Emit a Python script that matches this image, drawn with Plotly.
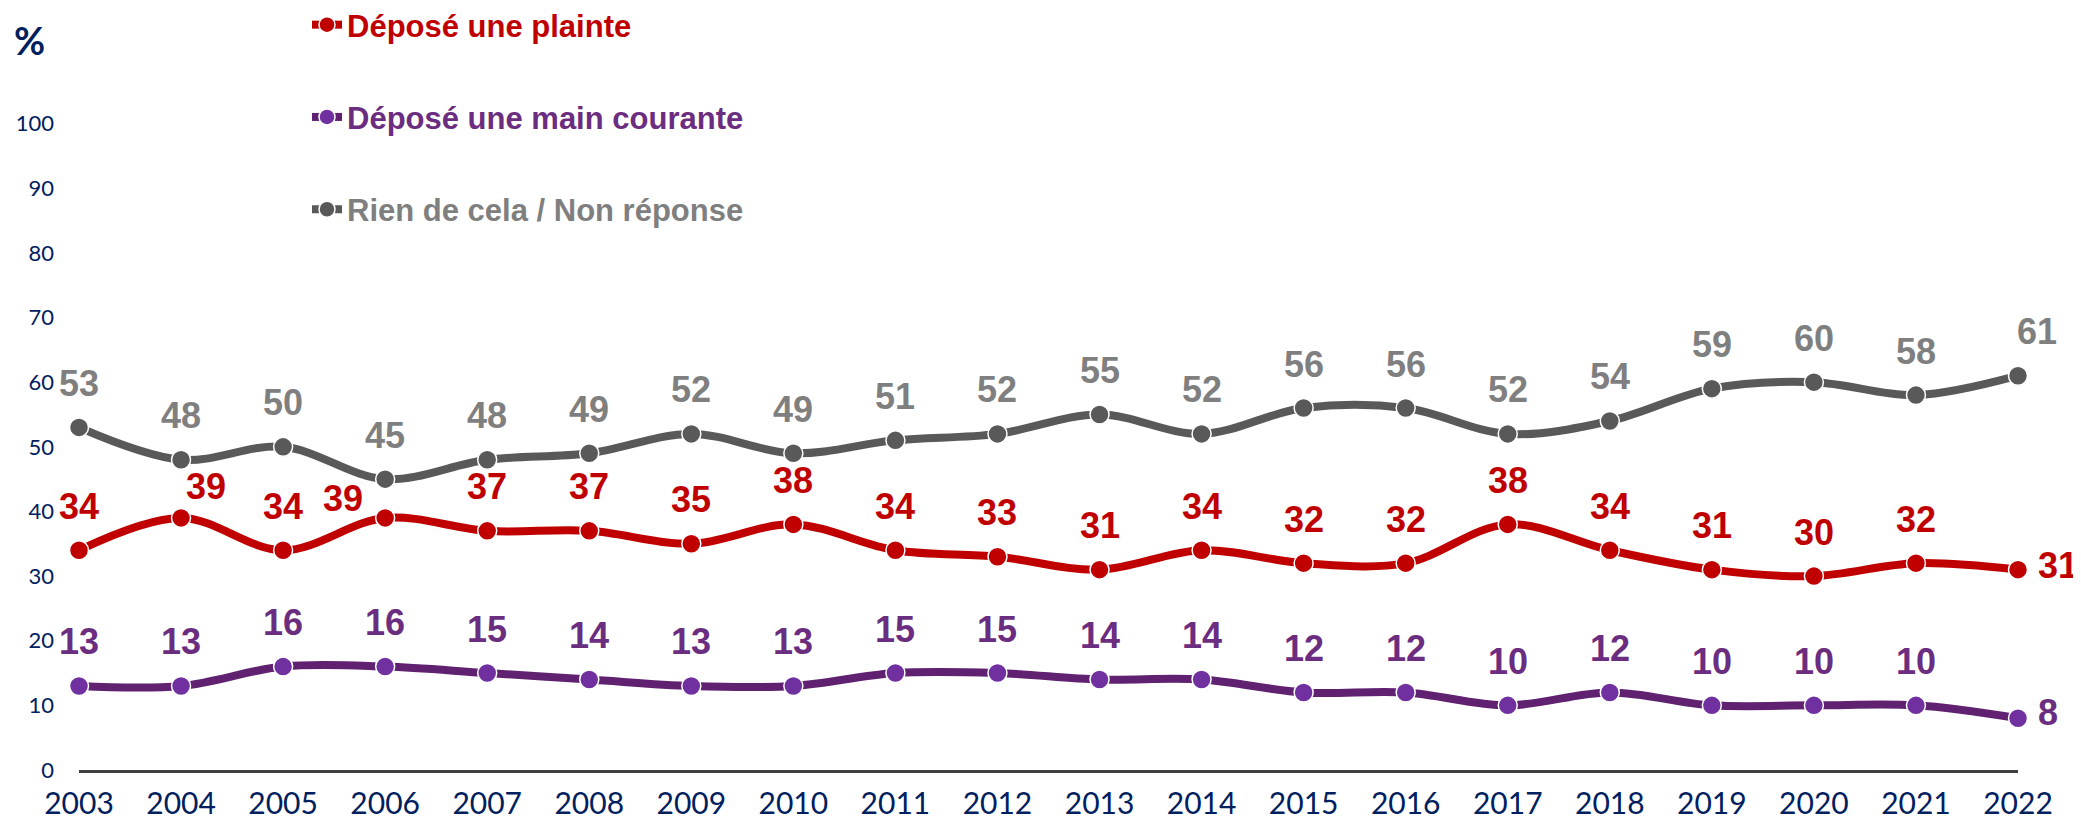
import plotly.graph_objects as go

years = list(range(2003, 2023))
plainte = [34, 39, 34, 39, 37, 37, 35, 38, 34, 33, 31, 34, 32, 32, 38, 34, 31, 30, 32, 31]
main_courante = [13, 13, 16, 16, 15, 14, 13, 13, 15, 15, 14, 14, 12, 12, 10, 12, 10, 10, 10, 8]
rien = [53, 48, 50, 45, 48, 49, 52, 49, 51, 52, 55, 52, 56, 56, 52, 54, 59, 60, 58, 61]
y_ticks = [0, 10, 20, 30, 40, 50, 60, 70, 80, 90, 100]

series = [
    dict(name="Déposé une plainte", values=plainte, line="#C00000", marker="#C00000",
         text="#C00000", shifts={1: (25, 31), 3: (-42, 19), 19: (40, 4)}),
    dict(name="Déposé une main courante", values=main_courante, line="#5F2170", marker="#7030A0",
         text="#6B2D7F", shifts={19: (30, 6)}),
    dict(name="Rien de cela / Non réponse", values=rien, line="#595959", marker="#595959",
         text="#7F7F7F", shifts={19: (19, 44)}),
]

# page body has an 8px margin, so the figure is drawn 8px in from the window corner
OFF = 8
W, H = 2081 - OFF, 821 - OFF
ML, MR, MT, MB = 71, 63, 51, 51
plot_w = W - ML - MR
plot_h = H - MT - MB

fig = go.Figure()
annotations = []
for i, s in enumerate(series):
    fig.add_trace(go.Scatter(
        x=years, y=s["values"], mode="lines+markers",
        name=f"<span style='color:{s['text']}'>{s['name']}</span>",
        legendgroup=f"g{i}",
        line=dict(color=s["line"], width=8, shape="spline", smoothing=1),
        marker=dict(color=s["marker"], size=19, line=dict(color="white", width=1.5)),
        cliponaxis=False,
        hoverinfo="x+y",
    ))
    for j, (xv, yv) in enumerate(zip(years, s["values"])):
        xs, ys = s["shifts"].get(j, (0, 44))
        annotations.append(dict(
            x=xv, y=yv, xref="x", yref="y", text=str(yv), showarrow=False,
            xshift=xs, yshift=ys,
            font=dict(family="Liberation Sans, Arial, sans-serif", size=36,
                      color=s["text"], weight="bold"),
        ))

annotations.append(dict(
    text="%", xref="paper", yref="paper",
    x=(29 - OFF - ML) / plot_w, y=(H - MB - (40 - OFF)) / plot_h,
    showarrow=False, xanchor="center", yanchor="middle",
    font=dict(family="Lato, sans-serif", size=38, color="#002060", weight="bold"),
))

legend_top = -10  # figure px
fig.update_layout(
    width=W, height=H,
    margin=dict(l=ML, r=MR, t=MT, b=MB, autoexpand=False),
    paper_bgcolor="white", plot_bgcolor="white",
    showlegend=True,
    legend=dict(
        xref="paper", yref="paper",
        x=(299 - ML) / plot_w, y=1 + (MT - legend_top) / plot_h,
        xanchor="left", yanchor="top",
        font=dict(family="Liberation Sans, Arial, sans-serif", size=31, weight="bold"),
        tracegroupgap=49, traceorder="grouped",
        bgcolor="rgba(0,0,0,0)", itemwidth=30,
    ),
    annotations=annotations,
    xaxis=dict(
        range=[2003, 2022], tickmode="array", tickvals=years,
        ticktext=[str(y) for y in years],
        showgrid=False, zeroline=False, showline=True,
        linecolor="#404040", linewidth=2.5, ticks="",
        ticklabelstandoff=5,
        tickfont=dict(family="Lato, sans-serif", size=30, color="#002060"),
    ),
    yaxis=dict(
        range=[0, 110], tickmode="array", tickvals=y_ticks,
        showgrid=False, zeroline=False, showline=False, ticks="",
        ticklabelstandoff=24,
        tickfont=dict(family="Lato, sans-serif", size=22, color="#002060"),
    ),
)

fig.write_html("out.html")
